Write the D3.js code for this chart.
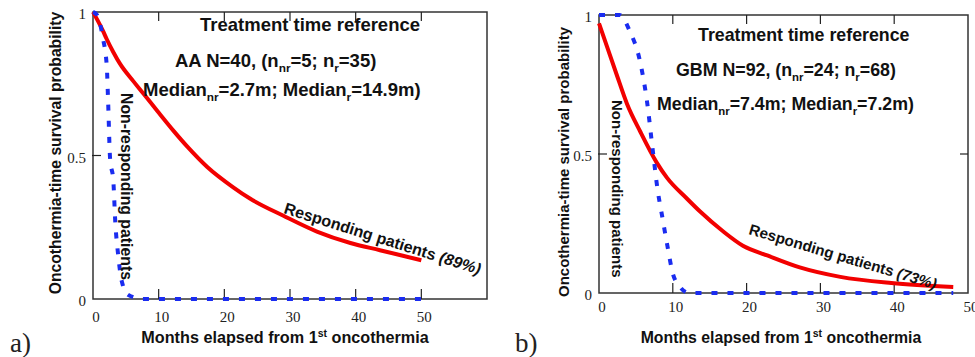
<!DOCTYPE html>
<html>
<head>
<meta charset="utf-8">
<script src="https://cdn.jsdelivr.net/npm/d3@7"></script>
<style>
  html, body { margin: 0; padding: 0; background: #fff; }
  svg { display: block; }
  .lbl { font-family: "Liberation Sans", Arial, sans-serif; font-weight: bold; fill: #111; }
  .tick { font-family: "Liberation Serif", "Times New Roman", serif; fill: #222; }
</style>
</head>
<body>
<svg id="chart" width="975" height="357"></svg>
<script>
// panel a) AA
const aRespMonths = [0, 0.6, 1.5, 2.1, 3.1, 4.1, 6.1, 7.7, 9.8, 12.3, 14.4, 17.4, 21.3, 23.9, 29, 34.1, 39.2, 43.7, 50];
const aRespProb   = [1, 0.975, 0.935, 0.905, 0.86, 0.82, 0.76, 0.715, 0.655, 0.585, 0.53, 0.46, 0.39, 0.35, 0.29, 0.235, 0.195, 0.17, 0.135];
const aNonMonths  = [0, 0.6, 1.5, 2.1, 2.3, 2.6, 3.1, 3.4, 3.8, 4.4, 5.4, 7.6, 50];
const aNonProb    = [1, 0.99, 0.91, 0.81, 0.69, 0.49, 0.41, 0.265, 0.16, 0.06, 0.014, 0, 0];

// panel b) GBM
const bRespMonths = [0, 1.1, 2.4, 3.8, 5.6, 7.8, 9.2, 11.9, 13.7, 16.8, 19.5, 22.8, 27.2, 32.7, 39.6, 48];
const bRespProb   = [0.97, 0.885, 0.785, 0.68, 0.58, 0.47, 0.415, 0.34, 0.293, 0.222, 0.17, 0.135, 0.092, 0.058, 0.036, 0.022];
const bNonMonths  = [0, 2.8, 4.2, 5.5, 6.5, 7.3, 8.0, 8.4, 9.3, 10.0, 11.1, 12.2, 48];
const bNonProb    = [1, 1, 0.94, 0.84, 0.69, 0.51, 0.36, 0.30, 0.165, 0.07, 0.018, 0, 0];

const xTicksA = [0, 10, 20, 30, 40, 50];
const xTicksB = [0, 10, 20, 30, 40, 50];
const yTicks = [0, 0.5, 1];
const yTickLabels = ["0", "0.5", "1"];

const svg = d3.select("#chart");

const panels = [
  {
    letter: "a)", letterX: 10,
    xDomain: [0, 60], xRange: [93, 487], yRange: [299, 12],
    xTicks: xTicksA, tickLabelDy: 23, rightTick: false,
    resp: d3.zip(aRespMonths, aRespProb), non: d3.zip(aNonMonths, aNonProb),
    group: "AA N=40, (", nnr: "5", nr: "35", mnr: "2.7m", mr: "14.9m", pct: "(89%)",
    titleX: 200, titleY: 31, line2X: 175, line2Y: 67, line3X: 143, line3Y: 96,
    font: 18.5,
    nonX: 121, nonY: 93, nonFont: 15.8,
    respX: 283, respY: 213, respAngle: 17.5, respFont: 16,
    yLabelX: 61, yLabelY: 153, yLabelFont: 15.7,
    xLabelX: 285, xLabelY: 343, xLabelFont: 16.2
  },
  {
    letter: "b)", letterX: 515,
    xDomain: [0, 50], xRange: [599, 968], yRange: [293, 15],
    xTicks: xTicksB, tickLabelDy: 19, rightTick: true,
    resp: d3.zip(bRespMonths, bRespProb), non: d3.zip(bNonMonths, bNonProb),
    group: "GBM N=92, (", nnr: "24", nr: "68", mnr: "7.4m", mr: "7.2m", pct: "(73%)",
    titleX: 698, titleY: 41, line2X: 676, line2Y: 76, line3X: 657, line3Y: 110,
    font: 17.8,
    nonX: 612, nonY: 100, nonFont: 15,
    respX: 748, respY: 234, respAngle: 16.5, respFont: 15.2,
    yLabelX: 569, yLabelY: 162, yLabelFont: 15,
    xLabelX: 781, xLabelY: 343, xLabelFont: 15.8
  }
];

panels.forEach(p => {
  const x = d3.scaleLinear().domain(p.xDomain).range(p.xRange);
  const y = d3.scaleLinear().domain([0, 1]).range(p.yRange);
  const g = svg.append("g");

  // frame
  g.append("rect")
    .attr("x", p.xRange[0]).attr("y", p.yRange[1])
    .attr("width", p.xRange[1] - p.xRange[0]).attr("height", p.yRange[0] - p.yRange[1])
    .attr("fill", "none").attr("stroke", "#333").attr("stroke-width", 1.5);

  // inner ticks top / bottom
  const inner = p.xTicks.filter(t => t > 0 && t < p.xDomain[1]);
  g.selectAll(".tb").data(inner).enter().append("line")
    .attr("x1", d => x(d)).attr("x2", d => x(d))
    .attr("y1", y(0)).attr("y2", y(0) - 10)
    .attr("stroke", "#222").attr("stroke-width", 1.2);
  g.selectAll(".tt").data(inner).enter().append("line")
    .attr("x1", d => x(d)).attr("x2", d => x(d))
    .attr("y1", y(1)).attr("y2", y(1) + 9)
    .attr("stroke", "#222").attr("stroke-width", 1.2);
  g.append("line")
    .attr("x1", x(0) - 1).attr("x2", x(0) + 8)
    .attr("y1", y(0.5)).attr("y2", y(0.5))
    .attr("stroke", "#222").attr("stroke-width", 1.2);
  if (p.rightTick) {
    g.append("line")
      .attr("x1", x(p.xDomain[1]) - 8).attr("x2", x(p.xDomain[1]))
      .attr("y1", y(0.5)).attr("y2", y(0.5))
      .attr("stroke", "#222").attr("stroke-width", 1.2);
  }

  // tick labels
  g.selectAll(".xl").data(p.xTicks).enter().append("text")
    .attr("class", "tick")
    .attr("x", d => x(d) + 3).attr("y", y(0) + p.tickLabelDy)
    .attr("text-anchor", "middle").attr("font-size", 15)
    .text(d => d);
  g.selectAll(".yl").data(yTicks).enter().append("text")
    .attr("class", "tick")
    .attr("x", x(0) - 7).attr("y", d => y(d) + 7)
    .attr("text-anchor", "end").attr("font-size", 15)
    .text((d, i) => yTickLabels[i]);

  // curves
  const line = d3.line().x(d => x(d[0])).y(d => y(d[1])).curve(d3.curveMonotoneX);
  g.append("path").datum(p.resp)
    .attr("d", line).attr("fill", "none")
    .attr("stroke", "#f20000").attr("stroke-width", 4);
  g.append("path").datum(p.non)
    .attr("d", line).attr("fill", "none")
    .attr("stroke", "#1a2cf0").attr("stroke-width", 4)
    .attr("stroke-dasharray", "6,10");

  // header text
  g.append("text").attr("class", "lbl")
    .attr("x", p.titleX).attr("y", p.titleY).attr("font-size", p.font)
    .text("Treatment time reference");

  const sub = p.font * 0.64;
  const t2 = g.append("text").attr("class", "lbl")
    .attr("x", p.line2X).attr("y", p.line2Y).attr("font-size", p.font);
  t2.append("tspan").text(p.group + "n");
  t2.append("tspan").attr("dy", 5).attr("font-size", sub).text("nr");
  t2.append("tspan").attr("dy", -5).text("=" + p.nnr + "; n");
  t2.append("tspan").attr("dy", 5).attr("font-size", sub).text("r");
  t2.append("tspan").attr("dy", -5).text("=" + p.nr + ")");

  const t3 = g.append("text").attr("class", "lbl")
    .attr("x", p.line3X).attr("y", p.line3Y).attr("font-size", p.font);
  t3.append("tspan").text("Median");
  t3.append("tspan").attr("dy", 5).attr("font-size", sub).text("nr");
  t3.append("tspan").attr("dy", -5).text("=" + p.mnr + "; Median");
  t3.append("tspan").attr("dy", 5).attr("font-size", sub).text("r");
  t3.append("tspan").attr("dy", -5).text("=" + p.mr + ")");

  // curve annotations
  g.append("text").attr("class", "lbl")
    .attr("transform", `translate(${p.nonX},${p.nonY}) rotate(90)`)
    .attr("font-size", p.nonFont)
    .text("Non-responding patients");

  const r = g.append("text").attr("class", "lbl")
    .attr("transform", `translate(${p.respX},${p.respY}) rotate(${p.respAngle})`)
    .attr("font-size", p.respFont);
  r.append("tspan").text("Responding patients ");
  r.append("tspan").attr("font-style", "italic").text(p.pct);

  // axis titles
  g.append("text").attr("class", "lbl")
    .attr("transform", `translate(${p.yLabelX},${p.yLabelY}) rotate(-90)`)
    .attr("text-anchor", "middle").attr("font-size", p.yLabelFont)
    .text("Oncothermia-time survival probability");

  const xl = g.append("text").attr("class", "lbl")
    .attr("x", p.xLabelX).attr("y", p.xLabelY)
    .attr("text-anchor", "middle").attr("font-size", p.xLabelFont);
  xl.append("tspan").text("Months elapsed from 1");
  xl.append("tspan").attr("dy", -6).attr("font-size", 10.5).text("st");
  xl.append("tspan").attr("dy", 6).text(" oncothermia");

  // panel letter
  g.append("text").attr("class", "tick")
    .attr("x", p.letterX).attr("y", 352)
    .attr("font-size", 27)
    .text(p.letter);
});
</script>
</body>
</html>
